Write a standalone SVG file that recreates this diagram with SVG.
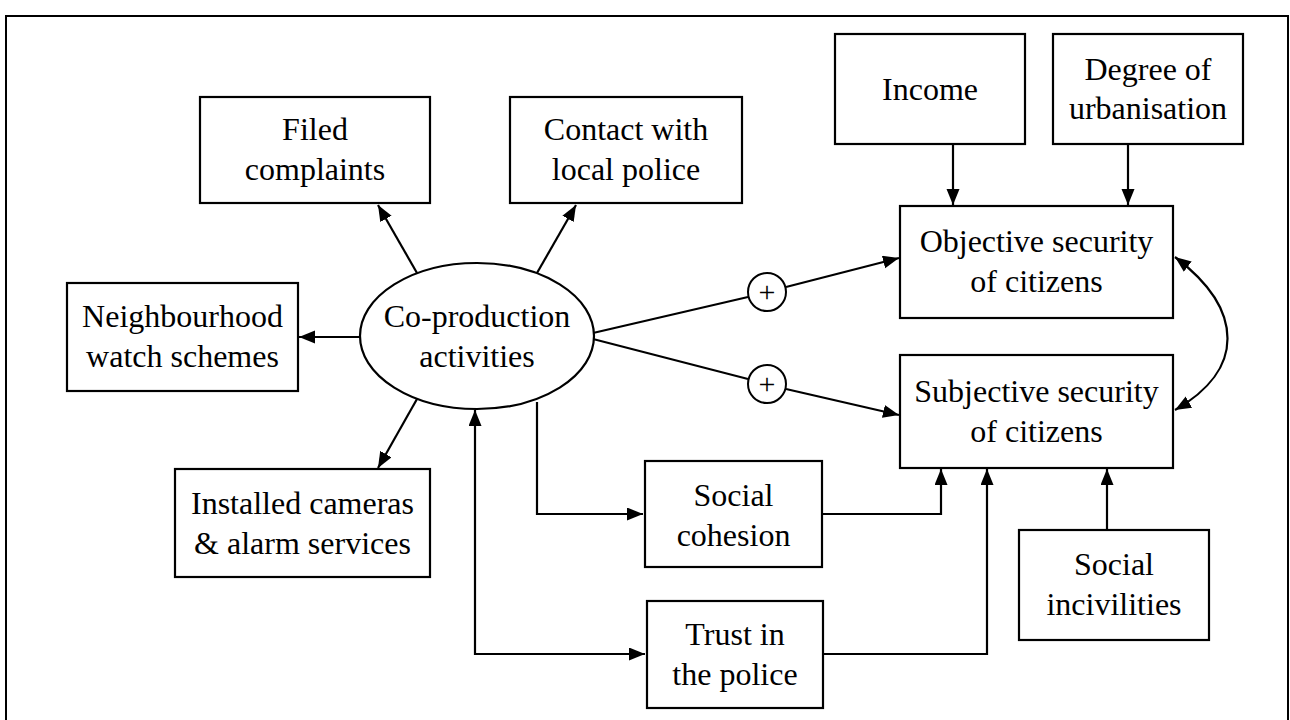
<svg xmlns="http://www.w3.org/2000/svg" width="1290" height="720" viewBox="0 0 1290 720" font-family="Liberation Serif, Tinos, Times New Roman, DejaVu Serif, serif">
<style>
.box{fill:#fff;stroke:#000;stroke-width:2.2}
.t{font-size:32px;text-anchor:middle;fill:#000}
.c{fill:none;stroke:#000;stroke-width:2.2}
.a{marker-end:url(#ah)}
.b{marker-start:url(#ah);marker-end:url(#ah)}
.plus{font-size:30px;text-anchor:middle;fill:#000}
</style>
<defs>
<marker id="ah" markerUnits="userSpaceOnUse" markerWidth="17" markerHeight="14" refX="16" refY="6.5" orient="auto-start-reverse">
<path d="M0,0 L16,6.5 L0,13 z" fill="#000"/>
</marker>
</defs>
<rect width="1290" height="720" fill="#fff"/>
<rect x="6" y="16" width="1282" height="740" fill="none" stroke="#000" stroke-width="2"/>

<g id="connectors">
<line class="c a" x1="417" y1="273" x2="378" y2="205"/>
<line class="c a" x1="537" y1="273" x2="576" y2="205"/>
<line class="c a" x1="360" y1="337" x2="299" y2="337"/>
<line class="c a" x1="417" y1="399" x2="378" y2="468"/>
<line class="c" x1="593" y1="333" x2="748" y2="297"/>
<line class="c a" x1="786" y1="287" x2="899" y2="258"/>
<line class="c" x1="593" y1="339" x2="748" y2="379"/>
<line class="c a" x1="786" y1="389" x2="899" y2="415"/>
<polyline class="c a" points="537,402 537,514 643,514"/>
<polyline class="c b" points="475,410 475,654 645,654"/>
<polyline class="c a" points="822,514 941,514 941,469"/>
<polyline class="c a" points="823,654 987,654 987,469"/>
<line class="c a" x1="1107" y1="530" x2="1107" y2="469"/>
<line class="c a" x1="953" y1="144" x2="953" y2="205"/>
<line class="c a" x1="1128" y1="144" x2="1128" y2="205"/>
<path class="c b" d="M1175,257 C1245,310 1245,370 1175,410"/>
</g>

<g id="plus1">
<circle cx="767" cy="292" r="19" fill="#fff" stroke="#000" stroke-width="2"/>
<text class="plus" x="767" y="302">+</text>
</g>
<g id="plus2">
<circle cx="767" cy="384" r="19" fill="#fff" stroke="#000" stroke-width="2"/>
<text class="plus" x="767" y="394">+</text>
</g>

<g id="coproduction">
<ellipse cx="477" cy="336" rx="117" ry="73" class="box"/>
<text class="t" x="477" y="327">Co-production</text>
<text class="t" x="477" y="367">activities</text>
</g>
<g id="filed">
<rect x="200" y="97" width="230" height="106" class="box"/>
<text class="t" x="315" y="140">Filed</text>
<text class="t" x="315" y="180">complaints</text>
</g>
<g id="contact">
<rect x="510" y="97" width="232" height="106" class="box"/>
<text class="t" x="626" y="140">Contact with</text>
<text class="t" x="626" y="180">local police</text>
</g>
<g id="neighbourhood">
<rect x="67" y="283" width="231" height="108" class="box"/>
<text class="t" x="182.5" y="327">Neighbourhood</text>
<text class="t" x="182.5" y="367">watch schemes</text>
</g>
<g id="cameras">
<rect x="175" y="469" width="255" height="108" class="box"/>
<text class="t" x="302.5" y="514">Installed cameras</text>
<text class="t" x="302.5" y="554">&amp; alarm services</text>
</g>
<g id="income">
<rect x="835" y="34" width="190" height="110" class="box"/>
<text class="t" x="930" y="100">Income</text>
</g>
<g id="urbanisation">
<rect x="1053" y="34" width="190" height="110" class="box"/>
<text class="t" x="1148" y="80">Degree of</text>
<text class="t" x="1148" y="119">urbanisation</text>
</g>
<g id="objective">
<rect x="900" y="206" width="273" height="112" class="box"/>
<text class="t" x="1036.5" y="252">Objective security</text>
<text class="t" x="1036.5" y="292">of citizens</text>
</g>
<g id="subjective">
<rect x="900" y="355" width="273" height="113" class="box"/>
<text class="t" x="1036.5" y="402">Subjective security</text>
<text class="t" x="1036.5" y="442">of citizens</text>
</g>
<g id="cohesion">
<rect x="645" y="461" width="177" height="106" class="box"/>
<text class="t" x="733.5" y="506">Social</text>
<text class="t" x="733.5" y="546">cohesion</text>
</g>
<g id="trust">
<rect x="647" y="601" width="176" height="107" class="box"/>
<text class="t" x="735" y="645">Trust in</text>
<text class="t" x="735" y="685">the police</text>
</g>
<g id="incivilities">
<rect x="1019" y="530" width="190" height="110" class="box"/>
<text class="t" x="1114" y="575">Social</text>
<text class="t" x="1114" y="615">incivilities</text>
</g>
</svg>
